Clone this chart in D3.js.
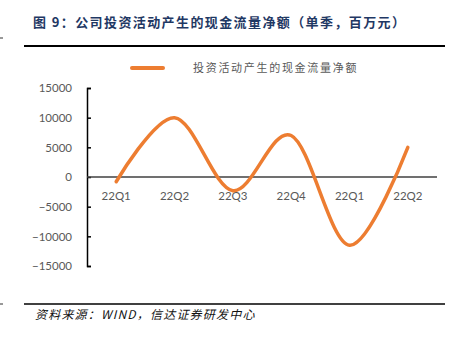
<!DOCTYPE html>
<html>
<head>
<meta charset="utf-8">
<script src="https://cdn.jsdelivr.net/npm/d3@7"></script>
<style>
  body { margin: 0; background: #fff; }
  svg { display: block; }
</style>
</head>
<body>
<svg id="chart" width="462" height="341"></svg>
<script>
// quarterly net cash flow from investing activities, million yuan
var quarters = ["22Q1", "22Q2", "22Q3", "22Q4", "22Q1", "22Q2"];
var netInvestCash = [-800, 10000, -2300, 7000, -11500, 5000];
var yTicks = [15000, 10000, 5000, 0, -5000, -10000, -15000];
var seriesName = "投资活动产生的现金流量净额";

var svg = d3.select("#chart");
var orange = "#ED7D31";
var grey = "#595959";

// header + footer rules
svg.append("text")
  .attr("x", 33).attr("y", 27)
  .attr("font-family", "'Noto Sans CJK SC', sans-serif")
  .attr("font-size", 13).attr("font-weight", "bold")
  .attr("letter-spacing", 1.4)
  .attr("fill", "#1F3864")
  .text("图 9：公司投资活动产生的现金流量净额（单季，百万元）");

svg.append("line").attr("x1", 24).attr("x2", 445).attr("y1", 46).attr("y2", 46)
  .attr("stroke", "#000").attr("stroke-width", 1.8);
svg.append("line").attr("x1", 24).attr("x2", 445).attr("y1", 304).attr("y2", 304)
  .attr("stroke", "#000").attr("stroke-width", 1.5);
svg.append("line").attr("x1", 0).attr("x2", 3).attr("y1", 38).attr("y2", 38)
  .attr("stroke", "#333").attr("stroke-width", 1);
svg.append("line").attr("x1", 0).attr("x2", 3).attr("y1", 304).attr("y2", 304)
  .attr("stroke", "#333").attr("stroke-width", 1);

svg.append("text")
  .attr("x", 35).attr("y", 319)
  .attr("font-family", "'Noto Sans CJK SC', sans-serif")
  .attr("font-size", 12).attr("font-style", "italic")
  .attr("letter-spacing", 1.2)
  .attr("fill", "#111")
  .text("资料来源：WIND，信达证券研发中心");

// legend
svg.append("line").attr("x1", 132).attr("x2", 163).attr("y1", 68).attr("y2", 68)
  .attr("stroke", orange).attr("stroke-width", 4).attr("stroke-linecap", "round");
svg.append("text")
  .attr("x", 193).attr("y", 72)
  .attr("font-family", "'Noto Sans CJK SC', sans-serif")
  .attr("font-size", 11).attr("letter-spacing", 1.7)
  .attr("fill", grey)
  .text(seriesName);

// scales
var x = d3.scaleBand()
  .domain(d3.range(quarters.length))
  .range([87, 437]);

var y = d3.scaleLinear()
  .domain([-15000, 15000])
  .range([266, 88]);

// y axis, ticks pointing inward
var yAxis = svg.append("g")
  .attr("transform", "translate(87,0)")
  .call(d3.axisRight(y).tickValues(yTicks).tickSize(4).tickFormat(d3.format("d")));
yAxis.select(".domain").attr("stroke", "#000").attr("stroke-width", 1.5);
yAxis.selectAll(".tick line").attr("stroke", "#000").attr("stroke-width", 1.5);
yAxis.selectAll(".tick text")
  .attr("x", -15).attr("text-anchor", "end")
  .attr("font-family", "Lato, sans-serif").attr("font-size", 11.5)
  .attr("fill", grey);

// zero line with category labels under it
svg.append("line")
  .attr("x1", 87).attr("x2", 437)
  .attr("y1", y(0)).attr("y2", y(0))
  .attr("stroke", "#404040").attr("stroke-width", 1.5);

svg.append("g").selectAll("text")
  .data(quarters)
  .join("text")
  .attr("x", function (d, i) { return x(i) + x.bandwidth() / 2; })
  .attr("y", y(0) + 23)
  .attr("text-anchor", "middle")
  .attr("font-family", "Lato, sans-serif").attr("font-size", 11.5)
  .attr("fill", grey)
  .text(function (d) { return d; });

// smoothed series
var line = d3.line()
  .x(function (d, i) { return x(i) + x.bandwidth() / 2; })
  .y(function (d) { return y(d); })
  .curve(d3.curveCardinal.tension(0));

svg.append("path")
  .datum(netInvestCash)
  .attr("d", line)
  .attr("fill", "none")
  .attr("stroke", orange)
  .attr("stroke-width", 3.5)
  .attr("stroke-linecap", "round");
</script>
</body>
</html>
